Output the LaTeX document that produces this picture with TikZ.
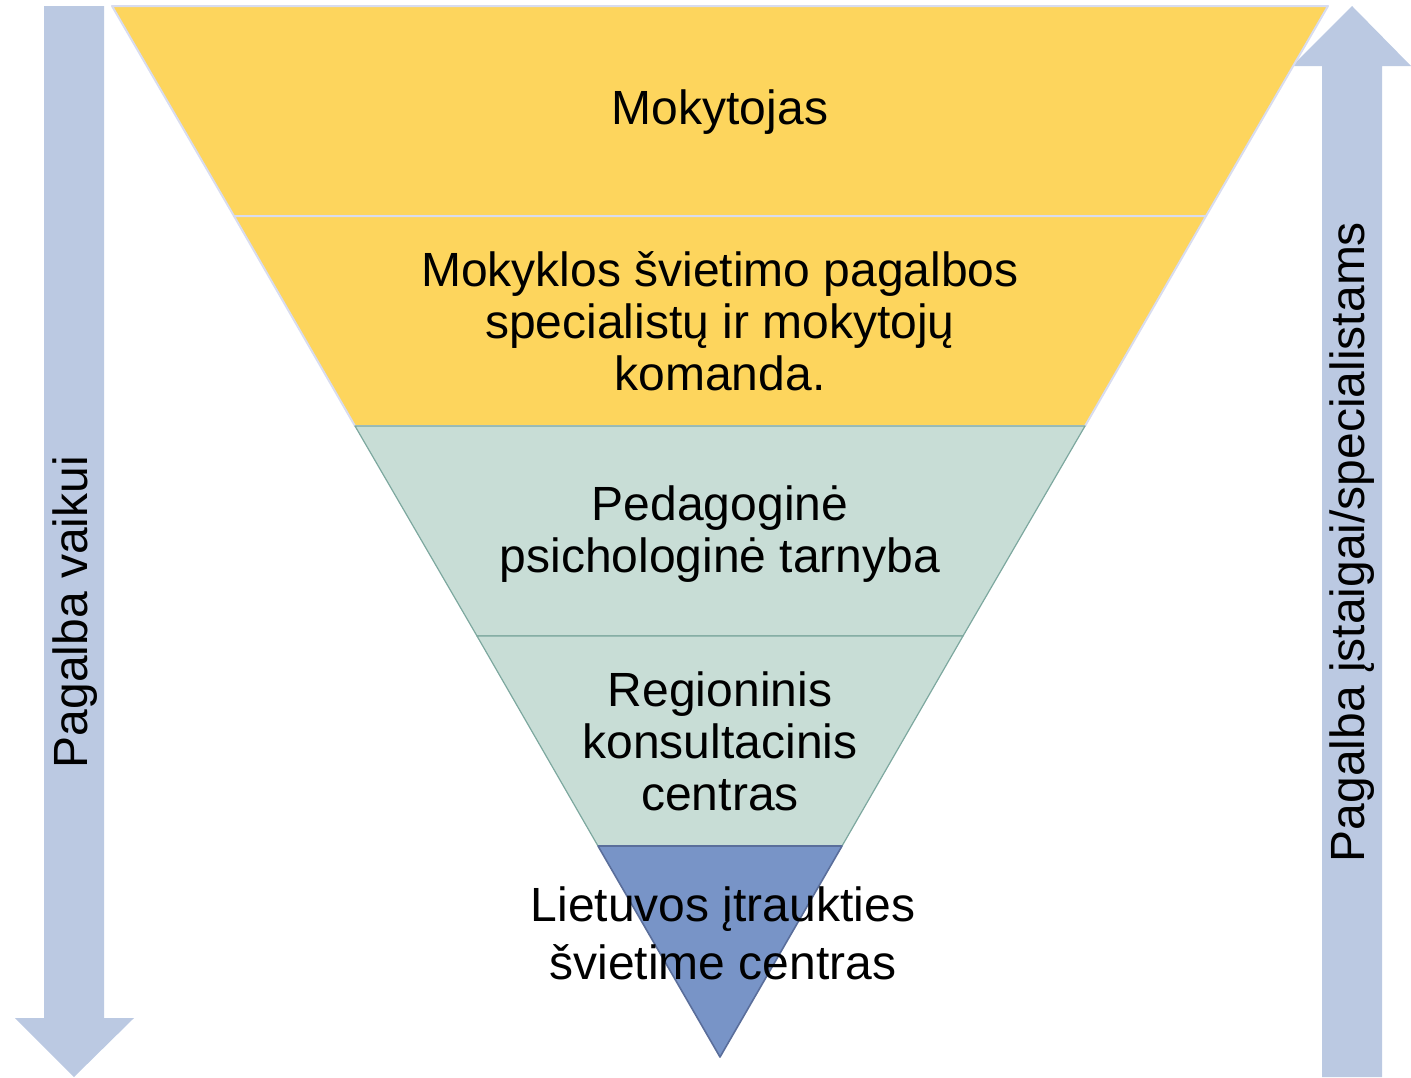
\documentclass[tikz,border=0pt]{standalone}
\usepackage{fontspec}
\setmainfont{Liberation Sans}
\usepackage{tikz}
\definecolor{geltona}{HTML}{FDD55D}
\definecolor{geltonakr}{HTML}{D8DCEF}
\definecolor{zalia}{HTML}{C8DDD6}
\definecolor{zaliakr}{HTML}{7DA89F}
\definecolor{melyna}{HTML}{7894C7}
\definecolor{melynakr}{HTML}{5A6E9B}
\definecolor{rodykle}{HTML}{BBC9E2}

\begin{document}
\begin{tikzpicture}[x=0.5pt,y=-0.5pt,
      band/.style={line width=1pt,line join=round},
      txt/.style={align=center,font=\fontsize{24}{26}\selectfont},
      side/.style={font=\fontsize{24}{26}\selectfont,rotate=90}
      ]
      \useasboundingbox (0,0) rectangle (1411,1077);
      % rodykles
      \fill[rodykle] (44,6) -- (104,6) -- (104,1018) -- (134,1018) -- (74,1077)
        -- (15,1018) -- (44,1018) -- cycle;
      \fill[rodykle] (1322,1077) -- (1382,1077) -- (1382,66) -- (1411,66) -- (1352,6)
        -- (1292,66) -- (1322,66) -- cycle;
      % juostos
      \draw[band,fill=geltona,draw=geltonakr] (112,6) -- (1328,6) -- (1206,216) -- (234,216) -- cycle;
      \draw[band,fill=geltona,draw=geltonakr] (234,216) -- (1206,216) -- (1085,426) -- (355,426) -- cycle;
      \draw[band,fill=zalia,draw=zaliakr,line width=0.6pt] (355,426) -- (1085,426) -- (963,636) -- (477,636) -- cycle;
      \draw[band,fill=zalia,draw=zaliakr,line width=0.6pt] (477,636) -- (963,636) -- (842,846) -- (598,846) -- cycle;
      \draw[band,fill=melyna,draw=melynakr,line width=0.8pt] (598,846) -- (842,846) -- (720,1057) -- cycle;
      % tekstai
      \node[txt] (mokytojas) at (720,112) {Mokytojas};
      \node[txt] (komanda) at (720,321) {Mokyklos švietimo pagalbos\\specialistų ir mokytojų\\komanda.};
      \node[txt] (ppt) at (720,534) {Pedagoginė\\psichologinė tarnyba};
      \node[txt] (rkc) at (720,741) {Regioninis\\konsultacinis\\centras};
      \node[txt,font=\fontsize{24}{29}\selectfont] (lisc) at (723,933) {Lietuvos įtraukties\\švietime centras};
      \node[side] (vaikui) at (75,612) {Pagalba vaikui};
      \node[side] (istaigai) at (1352,542) {Pagalba įstaigai/specialistams};
    \end{tikzpicture}
\end{document}
